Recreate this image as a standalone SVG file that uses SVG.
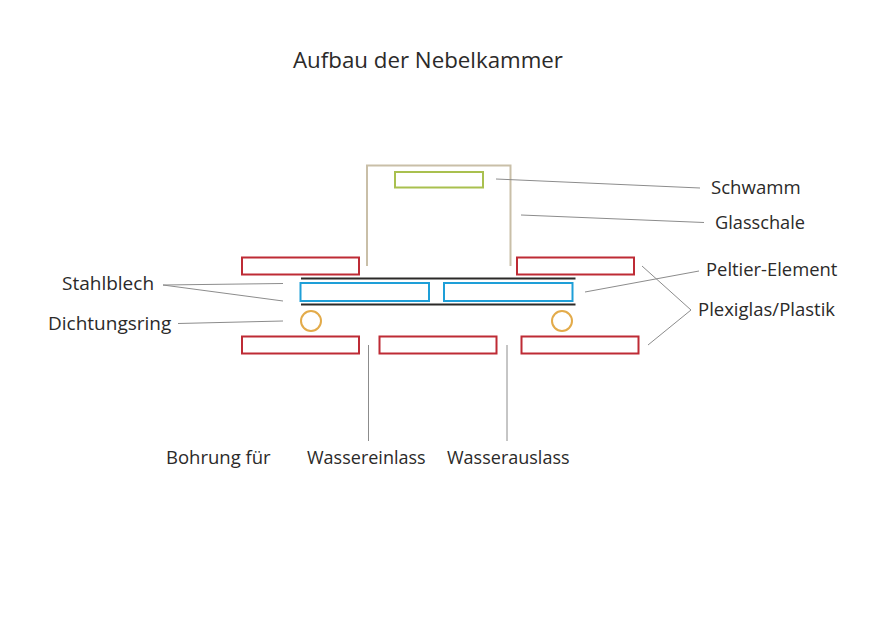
<svg xmlns="http://www.w3.org/2000/svg" width="874" height="620" viewBox="0 0 874 620">
<style>
text{font-family:"Open Sans","Noto Sans",sans-serif;fill:#2b2a29;font-size:18px}
.title{font-size:22.300px}
.plexi{fill:none;stroke:#be2b35;stroke-width:2}
.peltier{fill:none;stroke:#1e9fd8;stroke-width:2}
.steel{fill:none;stroke:#2b2a29;stroke-width:2}
.ring{fill:none;stroke:#e3ab4a;stroke-width:2}
.sponge{fill:none;stroke:#a9c04f;stroke-width:2}
.glass{fill:none;stroke:#c9bfa8;stroke-width:2}
.lead{fill:none;stroke:#8c8c8c;stroke-width:1}
</style>
<rect width="874" height="620" fill="#fff"/>
<text class="title" x="293" y="68">Aufbau der Nebelkammer</text>
<g id="glasschale"><path class="glass" d="M367 266V165.500H510.500V266"/><text x="715" y="229" style="font-size:18.200px">Glasschale</text></g>
<g id="schwamm"><rect class="sponge" x="395" y="172" width="88" height="15.500"/><text x="711" y="194" style="font-size:18.600px">Schwamm</text></g>
<g id="plexiglas">
<rect class="plexi" x="242" y="257.500" width="117" height="17"/>
<rect class="plexi" x="517" y="257.500" width="117" height="17"/>
<rect class="plexi" x="242" y="336.500" width="117" height="17"/>
<rect class="plexi" x="379.500" y="336.500" width="117" height="17"/>
<rect class="plexi" x="521.500" y="336.500" width="117" height="17"/>
<text x="698" y="316" style="font-size:18.500px">Plexiglas/Plastik</text>
</g>
<g id="stahlblech">
<path class="steel" d="M301 278.500H575.500M301 304.500H575.500"/>
<text x="62" y="290" style="font-size:19px">Stahlblech</text>
</g>
<g id="peltier">
<rect class="peltier" x="300.500" y="283" width="128.500" height="18"/>
<rect class="peltier" x="444" y="283" width="128.500" height="18"/>
<text x="706" y="276" style="font-size:18.400px">Peltier-Element</text>
</g>
<g id="dichtungsring">
<circle class="ring" cx="311" cy="321" r="10"/>
<circle class="ring" cx="562" cy="321" r="10"/>
<text x="48" y="330" style="font-size:19px">Dichtungsring</text>
</g>
<g id="bohrung">
<text x="166" y="464" style="font-size:18.500px">Bohrung für</text>
<text x="307" y="464">Wassereinlass</text>
<text x="447" y="464">Wasserauslass</text>
</g>
<g id="connectors">
<path class="lead" d="M496 179L700 188M521 215L704 222.500"/>
<path class="lead" d="M585 292L699 271"/>
<path class="lead" d="M642 266L691 310L648 345"/>
<path class="lead" d="M163 285L283 283.500M163 285L283 301M178 323.500L283 321"/>
<path class="lead" d="M368.500 345V441M507 345V441"/>
</g>
</svg>
